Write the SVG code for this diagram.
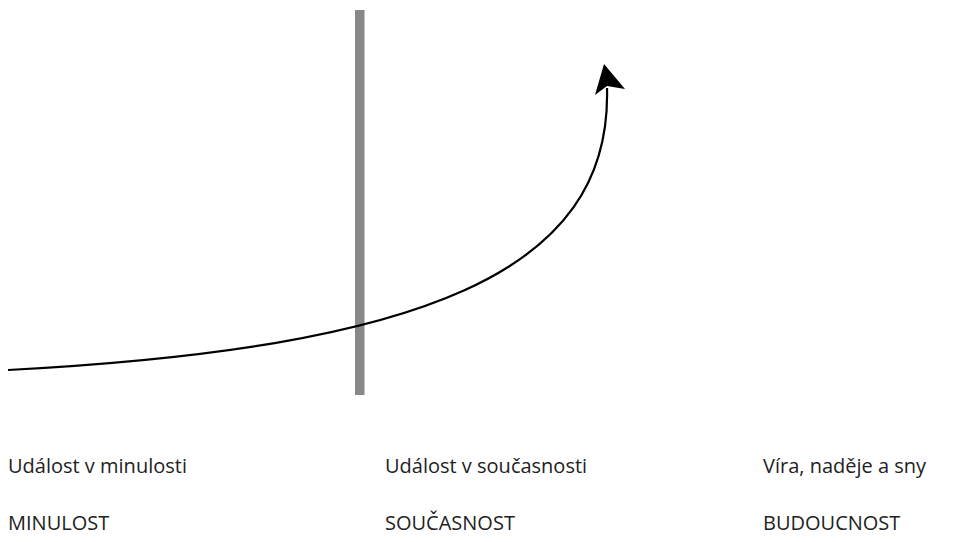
<svg xmlns="http://www.w3.org/2000/svg" width="967" height="542" viewBox="0 0 967 542">
<style>
.lbl{font-family:"Open Sans","Noto Sans","Liberation Sans",sans-serif;font-size:20px;fill:#222}
.bar{fill:#888888}
.curve{fill:none;stroke:#000;stroke-width:2.2}
</style>
<rect width="967" height="542" fill="#fff"/>
<g id="present-line"><rect class="bar" x="355" y="10" width="9.5" height="385"/></g>
<g id="connectors">
<path class="curve" d="M8,370 C420,348 612,274 607,88"/>
<polygon points="604,64 625,89 607,86 595,95" fill="#000"/>
</g>
<g id="past"><text class="lbl" x="8" y="473">Událost v minulosti</text><text class="lbl" x="8" y="530">MINULOST</text></g>
<g id="present"><text class="lbl" x="385" y="473">Událost v současnosti</text><text class="lbl" x="385" y="530">SOUČASNOST</text></g>
<g id="future"><text class="lbl" x="763" y="473">Víra, naděje a sny</text><text class="lbl" x="763" y="530">BUDOUCNOST</text></g>
</svg>
